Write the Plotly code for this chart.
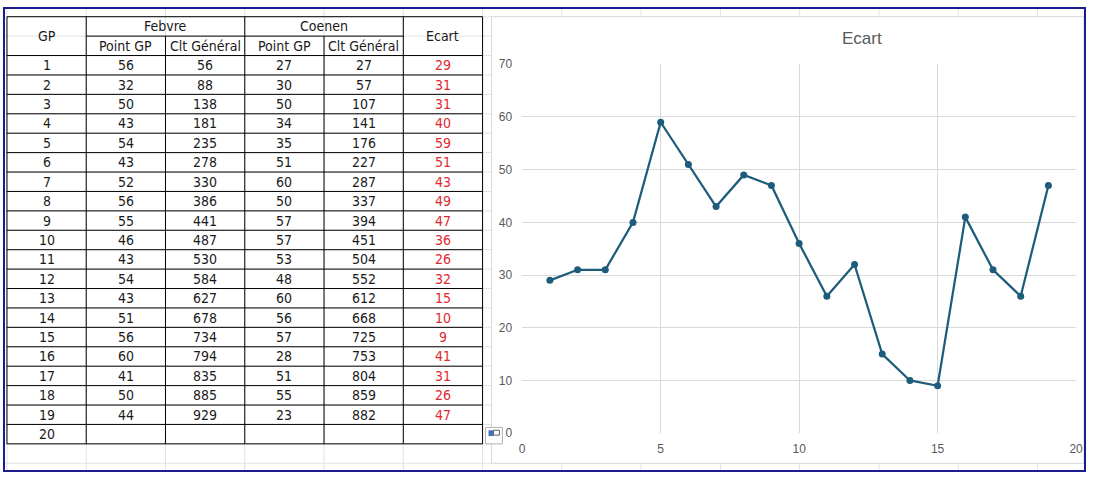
import plotly.graph_objects as go

# --------------------
# Data (read from the sheet)
# --------------------
gp = [1, 2, 3, 4, 5, 6, 7, 8, 9, 10, 11, 12, 13, 14, 15, 16, 17, 18, 19, 20]
febvre_pts = [56, 32, 50, 43, 54, 43, 52, 56, 55, 46, 43, 54, 43, 51, 56, 60, 41, 50, 44]
febvre_clt = [56, 88, 138, 181, 235, 278, 330, 386, 441, 487, 530, 584, 627, 678, 734, 794, 835, 885, 929]
coenen_pts = [27, 30, 50, 34, 35, 51, 60, 50, 57, 57, 53, 48, 60, 56, 57, 28, 51, 55, 23]
coenen_clt = [27, 57, 107, 141, 176, 227, 287, 337, 394, 451, 504, 552, 612, 668, 725, 753, 804, 859, 882]
ecart = [29, 31, 31, 40, 59, 51, 43, 49, 47, 36, 26, 32, 15, 10, 9, 41, 31, 26, 47]

W, H = 1093, 479
def px(x):
    return x / W
def py(y):
    return 1 - y / H

CELL_FONT = "Liberation Sans Narrow, Arial Narrow, DejaVu Sans Condensed, Liberation Sans, Arial"
GRID = "#e2e2e2"
shapes = []
annotations = []

# --------------------
# Spreadsheet background grid
# --------------------
for x in range(4, W, 80):
    shapes.append(dict(type="line", xref="paper", yref="paper", x0=px(x), x1=px(x), y0=0, y1=1,
                       line=dict(color=GRID, width=1), layer="below"))
for y in range(10, H, 20):
    shapes.append(dict(type="line", xref="paper", yref="paper", x0=0, x1=1, y0=py(y), y1=py(y),
                       line=dict(color=GRID, width=1), layer="below"))

# --------------------
# Chart area (white box over the sheet)
# --------------------
shapes.append(dict(type="rect", xref="paper", yref="paper", x0=px(493), x1=px(1091), y0=py(470), y1=py(10),
                   fillcolor="white", line=dict(color="#d9d9d9", width=1), layer="below"))

# --------------------
# Table
# --------------------
cols = [4, 84, 164, 244, 324, 404, 484]
top, mid, head_bot = 10, 30, 50
n_rows = len(gp)
bottom = head_bot + 20 * n_rows

def hline(x0, x1, y):
    shapes.append(dict(type="line", xref="paper", yref="paper", x0=px(x0), x1=px(x1), y0=py(y), y1=py(y),
                       line=dict(color="black", width=1)))

def vline(x, y0, y1):
    shapes.append(dict(type="line", xref="paper", yref="paper", x0=px(x), x1=px(x), y0=py(y0), y1=py(y1),
                       line=dict(color="black", width=1)))

hline(cols[0], cols[-1], top)
hline(cols[1], cols[5], mid)
for r in range(n_rows + 1):
    hline(cols[0], cols[-1], head_bot + 20 * r)
for c in [cols[0], cols[1], cols[3], cols[5], cols[6]]:
    vline(c, top, bottom)
for c in [cols[2], cols[4]]:
    vline(c, mid, bottom)

def cell(text, xc, yc, color="#1a1a1a"):
    annotations.append(dict(x=px(xc), y=py(yc), xref="paper", yref="paper", text=str(text),
                            showarrow=False, xanchor="center", yanchor="middle",
                            font=dict(family=CELL_FONT, size=14, color=color)))

cell("GP", 44, 30)
cell("Febvre", 164, 20)
cell("Coenen", 324, 20)
cell("Ecart", 444, 30)
for xc, lab in zip([124, 204, 284, 364], ["Point GP", "Clt Général", "Point GP", "Clt Général"]):
    cell(lab, xc, 40)

for i, g in enumerate(gp):
    yc = head_bot + 10 + 20 * i
    cell(g, 44, yc)
    if i < len(ecart):
        cell(febvre_pts[i], 124, yc)
        cell(febvre_clt[i], 204, yc)
        cell(coenen_pts[i], 284, yc)
        cell(coenen_clt[i], 364, yc)
        cell(ecart[i], 444, yc, color="#e0282e")

# small paste-options icon
shapes.append(dict(type="rect", xref="paper", yref="paper", x0=px(487), x1=px(504), y0=py(450), y1=py(433),
                   fillcolor="white", line=dict(color="#b0b0b0", width=1)))
shapes.append(dict(type="rect", xref="paper", yref="paper", x0=px(490), x1=px(495), y0=py(442), y1=py(436),
                   fillcolor="#4472c4", line=dict(width=0)))
shapes.append(dict(type="rect", xref="paper", yref="paper", x0=px(495), x1=px(501), y0=py(441), y1=py(436),
                   fillcolor="white", line=dict(color="#606060", width=1)))

# window border
shapes.append(dict(type="rect", xref="paper", yref="paper", x0=px(1), x1=px(W - 1), y0=py(H - 1), y1=py(1),
                   line=dict(color="#1c1c8f", width=2)))

# --------------------
# Line chart
# --------------------
fig = go.Figure()
fig.add_trace(go.Scatter(
    x=gp[:len(ecart)], y=ecart, mode="lines+markers",
    line=dict(color="#1d5c7a", width=2.25),
    marker=dict(color="#1d5c7a", size=7),
    name="Ecart", showlegend=False, cliponaxis=False
))

tick_font = dict(family="Liberation Sans, Arial", size=12, color="#595959")
fig.update_layout(
    width=W, height=H,
    margin=dict(l=0, r=0, t=0, b=0),
    paper_bgcolor="white",
    plot_bgcolor="rgba(0,0,0,0)",
    shapes=shapes,
    annotations=annotations + [dict(
        x=px(867), y=py(32), xref="paper", yref="paper", text="Ecart", showarrow=False,
        xanchor="center", yanchor="middle",
        font=dict(family="Liberation Sans, Arial", size=17, color="#595959"))],
    xaxis=dict(domain=[px(524), px(1083)], range=[0, 20], dtick=5, showgrid=True,
               gridcolor="#d9d9d9", zeroline=False, showline=False, tickfont=tick_font,
               ticklabelstandoff=7, fixedrange=True),
    yaxis=dict(domain=[py(439), py(59)], range=[0, 70], dtick=10, showgrid=True,
               gridcolor="#d9d9d9", zeroline=False, showline=False, tickfont=tick_font,
               ticklabelstandoff=9, fixedrange=True),
)

page_fix = (
    "document.documentElement.style.margin='0';"
    "document.documentElement.style.overflow='hidden';"
    "document.body.style.margin='0';"
    "document.body.style.overflow='hidden';"
    "var d=document.getElementById('{plot_id}');"
    "d.style.position='fixed';d.style.left='0px';d.style.top='0px';"
)
fig.write_html("out.html", config={"displayModeBar": False}, post_script=page_fix)
